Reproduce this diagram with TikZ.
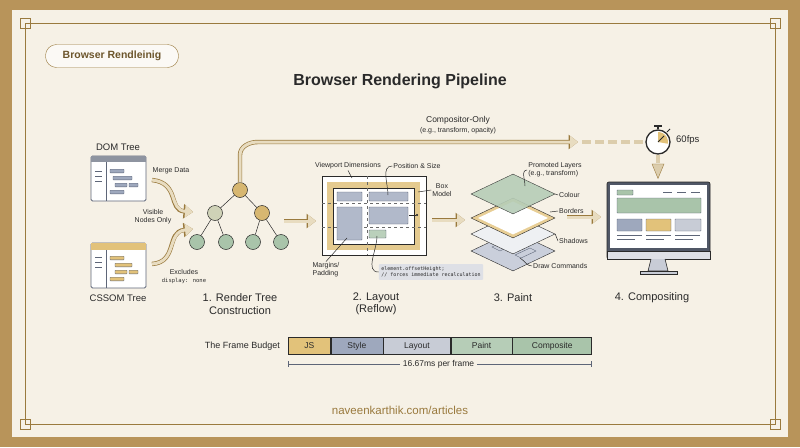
\documentclass[tikz,border=0pt]{standalone}
\usepackage{fontspec}
\setmainfont{Liberation Sans}
\newfontfamily\codefont{DejaVu Sans Mono}
\usetikzlibrary{positioning,arrows.meta,shapes.geometric}
\definecolor{goldframe}{HTML}{B8945A}
\definecolor{golddark}{HTML}{9A7A3E}
\definecolor{cream}{HTML}{F6F1E6}
\definecolor{beige}{HTML}{E8DCC0}
\definecolor{slateb}{HTML}{9EA8BD}
\definecolor{slated}{HTML}{5E6678}
\definecolor{sage}{HTML}{A9C4AA}
\definecolor{mustard}{HTML}{E2C27A}
\definecolor{lightg}{HTML}{C8CCD6}
\definecolor{inkc}{HTML}{2A2A2A}
\tikzset{
  lbl/.style={font=\fontsize{7}{8}\selectfont, text=inkc, align=center, inner sep=1pt},
  stage/.style={font=\fontsize{11}{12.5}\selectfont, text=inkc, align=center},
  fat/.style={line width=3pt, beige, -{Triangle[length=8pt,width=12pt]},
    preaction={draw=golddark, line width=4.4pt, -{Triangle[length=9.5pt,width=14pt]}}},
  lead/.style={draw=inkc, line width=0.5pt},
  tnode/.style={circle, draw=inkc, line width=0.5pt, minimum size=15pt, inner sep=0pt},
  seg/.style={draw=inkc, line width=0.6pt, minimum height=17pt, inner sep=0pt,
    text height=6pt, text depth=1.5pt, font=\fontsize{8.5}{9}\selectfont, text=inkc},
  win/.style={draw=slated, line width=0.8pt, fill=white, rounded corners=1.5pt},
  bar/.style={rounded corners=0.5pt, draw=slated, line width=0.4pt},
}
\begin{document}
\begin{tikzpicture}[x=1pt,y=-1pt]
  \useasboundingbox (0,0) rectangle (800,447);
  % frame
  \fill[goldframe] (0,0) rectangle (800,447);
  \fill[cream] (12,10) rectangle (788,437);
  \draw[golddark, line width=0.8pt] (25,23) rectangle (775,424);
  \foreach \cx/\cy in {25/23,775/23,25/424,775/424}
    \draw[golddark, line width=0.8pt] (\cx-5,\cy-5) rectangle (\cx+5,\cy+5);

  % header
  \node[draw=golddark, fill=white!60!cream, rounded corners=11pt, minimum width=133pt,
    minimum height=23pt, font=\fontsize{10.5}{12}\selectfont\bfseries, text=golddark!70!black] (pill) at (112,56) {Browser Rendleinig};
  \node[font=\fontsize{16}{18}\selectfont\bfseries, text=inkc] (title) at (400,81) {Browser Rendering Pipeline};

  % DOM and CSSOM windows
  \node[stage, font=\fontsize{9.5}{10}\selectfont] (domlbl) at (118,147) {DOM Tree};
  \draw[win] (91,156) rectangle (146,201);
  \fill[slated!70] (91.4,156.4) rectangle (145.6,162);
  \draw[slated, line width=0.5pt] (106,162) -- (106,200.6);
  \foreach \yy in {171,176,181} \draw[slated, line width=0.5pt] (95,\yy) -- (102,\yy);
  \foreach \xa/\xb/\yy in {110/124/171, 113/132/178, 115/127/185, 129/138/185, 110/124/192}
    \draw[bar, fill=slateb] (\xa,\yy-1.8) rectangle (\xb,\yy+1.8);
  \node[stage, font=\fontsize{9.5}{10}\selectfont] (csslbl) at (118,298) {CSSOM Tree};
  \draw[win] (91,243) rectangle (146,288);
  \fill[mustard] (91.4,243.4) rectangle (145.6,250);
  \draw[slated, line width=0.5pt] (106,250) -- (106,287.6);
  \foreach \yy in {257,262,267} \draw[slated, line width=0.5pt] (95,\yy) -- (102,\yy);
  \foreach \xa/\xb/\yy in {110/124/258, 115/132/265, 115/127/272, 129/138/272, 110/124/279}
    \draw[bar, fill=mustard] (\xa,\yy-1.8) rectangle (\xb,\yy+1.8);
  \coordinate (domout) at (152,180);
  \coordinate (cssout) at (152,264);
  \coordinate (treein1) at (193,212);
  \coordinate (treein2) at (193,229);
  \draw[fat] (domout) .. controls (180,183) and (168,210) .. (treein1);
  \draw[fat] (cssout) .. controls (178,262) and (166,232) .. (treein2);
  \node[lbl] at (171,171) {Merge Data};
  \node[lbl] at (153,217) {Visible\\Nodes Only};
  \node[lbl] at (184,277) {Excludes\\{\codefont\fontsize{5.5}{7}\selectfont display: none}};

  % render tree
  \node[tnode, fill=mustard!85!golddark] (root) at (240,190) {};
  \node[tnode, fill=beige!60!sage] (ml) at (215,213) {};
  \node[tnode, fill=mustard!85!golddark] (mr) at (262,213) {};
  \foreach \n/\xx in {l1/197,l2/226,l3/253,l4/281}
    \node[tnode, fill=sage] (\n) at (\xx,242) {};
  \draw[lead] (root) -- (ml);
  \draw[lead] (root) -- (mr);
  \draw[lead] (ml) -- (l1);
  \draw[lead] (ml) -- (l2);
  \draw[lead] (mr) -- (l3);
  \draw[lead] (mr) -- (l4);
  \node[stage] (s1) at (240,304) {1. Render Tree\\Construction};

  % compositor-only bypass
  \coordinate (bypassend) at (578,142);
  \draw[fat] (root.north) -- (240,155) to[out=90,in=180] (258,142) -- (bypassend);
  \node[lbl, font=\fontsize{8.5}{10}\selectfont] at (458,120) {Compositor-Only};
  \node[lbl] at (458,131) {(e.g., transform, opacity)};
  \node[circle, draw=inkc, line width=1.3pt, fill=white, minimum size=24pt,
    inner sep=0pt] (watch) at (658,142) {};
  \fill[mustard] (watch.center) -- (658,132) arc[start angle=-90,end angle=10,radius=10] -- cycle;
  \draw[inkc, line width=0.8pt] (watch.center) -- (664,136);
  \draw[inkc, line width=1.2pt] (watch.north) -- (658,126) (654,126) -- (662,126);
  \draw[inkc, line width=0.8pt] (667,132) -- (670,129);
  \node[lbl, font=\fontsize{9.5}{10}\selectfont, anchor=west] (fps) at (675,140) {60fps};
  \draw[beige!85!golddark, line width=4pt, dash pattern=on 9pt off 4pt] (bypassend) ++(4,0) -- (watch.west);

  % arrows between stages
  \coordinate (a1) at (284,221);
  \coordinate (a2) at (316,221);
  \draw[fat] (a1) -- (a2);
  \coordinate (b1) at (432,220);
  \coordinate (b2) at (465,220);
  \draw[fat] (b1) -- (b2);
  \coordinate (c1) at (567,217);
  \coordinate (c2) at (601,217);
  \draw[fat] (c1) -- (c2);

  % layout box
  \draw[inkc, line width=0.6pt, fill=white] (322,176) rectangle (426,255);
  \fill[mustard!70!beige] (327,182) rectangle (420,250);
  \draw[inkc, line width=0.4pt, fill=white] (333,188) rectangle (414,244);
  \draw[inkc!70, dashed, line width=0.4pt] (367,176) -- (367,255) (322,203) -- (426,203) (322,227) -- (426,227);
  \foreach \xa/\ya/\xb/\yb in {337/192/362/201, 369/192/408/201, 337/207/362/240, 369/207/408/224}
    \draw[bar, fill=slateb!80!white] (\xa,\ya) rectangle (\xb,\yb);
  \draw[bar, fill=sage!80!white] (369,230) rectangle (386,238);
  \draw[inkc, line width=0.5pt, -{Circle[length=2pt]}] (409,215) -- (418,215);
  \node[lbl] (vp) at (348,166) {Viewport Dimensions};
  \node[lbl] (ps) at (417,166) {Position \& Size};
  \node[lbl] (bm) at (442,190) {Box\\Model};
  \node[lbl, align=left] (mp) at (326,270) {Margins/\\Padding};
  \node[fill=lightg!60!white, rounded corners=1pt, inner sep=2.5pt, align=left,
    font=\codefont\fontsize{5}{6.5}\selectfont, text=inkc] (code) at (431,272)
    {element.offsetHeight;\\// forces immediate recalculation};
  \draw[lead] (vp.south) -- (352,178);
  \draw[lead] (ps.west) to[out=180,in=90] (388,195);
  \draw[lead] (bm.west) -- (418,192);
  \draw[lead] (mp.north) -- (347,238);
  \draw[lead] (code.west) to[out=180,in=-90] (377,236);
  \node[stage] (s2) at (376,304) {2. Layout\\(Reflow)};

  % paint layers
  \node[diamond, draw=inkc, line width=0.4pt, fill=slateb!55!white, minimum width=84pt,
    minimum height=40pt, inner sep=0pt] (ldraw) at (513,251) {};
  \draw[slated, line width=0.4pt] (492,247) -- (500,243) -- (508,247) -- (500,251) -- cycle;
  \draw[slated, line width=0.4pt] (515,255) -- (530,248) -- (536,251) -- (521,258) -- cycle;
  \node[diamond, draw=inkc, line width=0.4pt, fill=white!70!lightg, minimum width=84pt,
    minimum height=40pt, inner sep=0pt] (lshadow) at (513,234) {};
  \node[diamond, draw=inkc, line width=0.4pt, fill=mustard!80!white, minimum width=84pt,
    minimum height=40pt, inner sep=0pt] (lborder) at (513,218) {};
  \node[diamond, fill=white, minimum width=70pt, minimum height=33pt, inner sep=0pt] at (513,218) {};
  \node[diamond, draw=inkc, line width=0.4pt, fill=sage!85!white, opacity=0.9, minimum width=84pt,
    minimum height=40pt, inner sep=0pt] (lcolour) at (513,194) {};
  \node[lbl, align=left] (pl) at (555,170) {Promoted Layers\\(e.g., transform)};
  \node[lbl, anchor=west] (col) at (558,195) {Colour};
  \node[lbl, anchor=west] (bor) at (558,211) {Borders};
  \node[lbl, anchor=west] (sha) at (558,241) {Shadows};
  \node[lbl, anchor=west] (dc) at (532,266) {Draw Commands};
  \draw[lead] (pl.west) to[out=180,in=90] (525,186);
  \draw[lead] (col.west) -- (lcolour.east);
  \draw[lead] (bor.west) -- (550,212);
  \draw[lead] (sha.west) -- (lshadow.east);
  \draw[lead] (dc.west) to[out=180,in=-30] (520,258);
  \node[stage] (s3) at (513,298) {3. Paint};

  % compositing monitor
  \draw[beige!85!golddark, line width=4pt] (watch.south) -- (658,163);
  \node[isosceles triangle, shape border rotate=-90, fill=beige!85!golddark, draw=golddark,
    line width=0.4pt, minimum width=12pt, minimum height=8pt, inner sep=0pt] (wtip) at (658,168) {};
  \draw[inkc, line width=0.7pt, fill=slated!85!black, rounded corners=2pt] (607,182) rectangle (710,259);
  \draw[inkc, line width=0.4pt, fill=lightg!60!white] (607,251) rectangle (710,259);
  \node[rectangle, fill=white, minimum width=97pt, minimum height=63pt, inner sep=0pt] (screen) at (658.5,216.5) {};
  \draw[inkc, line width=0.6pt, fill=lightg] (651,259) -- (648,271) -- (668,271) -- (665,259);
  \draw[inkc, line width=0.6pt, fill=lightg] (640,271) rectangle (677,274);
  \draw[bar, fill=sage] (617,190) rectangle (633,195);
  \draw[slated, line width=0.5pt] (663,192) -- (672,192) (677,192) -- (686,192) (691,192) -- (700,192);
  \draw[bar, fill=sage] (617,198) rectangle (701,213);
  \draw[bar, fill=slateb] (617,219) rectangle (642,231);
  \draw[bar, fill=mustard] (646,219) rectangle (671,231);
  \draw[bar, fill=lightg] (675,219) rectangle (701,231);
  \foreach \xx in {617,646,675} {
    \draw[slated, line width=0.4pt] (\xx,235) -- (\xx+25,235);
    \draw[slated, line width=0.4pt] (\xx,239) -- (\xx+18,239);
  }
  \node[stage] (s4) at (652,298) {4. Compositing};

  % frame budget
  \node[lbl, font=\fontsize{9}{10}\selectfont, anchor=east] (fb) at (281,346) {The Frame Budget};
  \node[seg, fill=mustard, minimum width=42pt, anchor=west] (js) at (288,346) {JS};
  \node[seg, fill=slateb, minimum width=52pt, right=0pt of js] (sty) {Style};
  \node[seg, fill=lightg, minimum width=67pt, right=0pt of sty] (lay) {Layout};
  \node[seg, fill=sage!85!white, minimum width=61pt, right=0pt of lay] (pnt) {Paint};
  \node[seg, fill=sage, minimum width=79pt, right=0pt of pnt] (cmp) {Composite};
  \node[lbl, font=\fontsize{8.5}{10}\selectfont, fill=cream, inner sep=3pt] (ms) at (438.5,364) {16.67ms per frame};
  \draw[slated, line width=0.6pt, |-] (js.south west |- ms) -- (ms.west);
  \draw[slated, line width=0.6pt, -|] (ms.east) -- (cmp.south east |- ms);

  % footer
  \node[font=\fontsize{11.5}{13}\selectfont, text=golddark] (url) at (400,410) {naveenkarthik.com/articles};
\end{tikzpicture}
\end{document}
